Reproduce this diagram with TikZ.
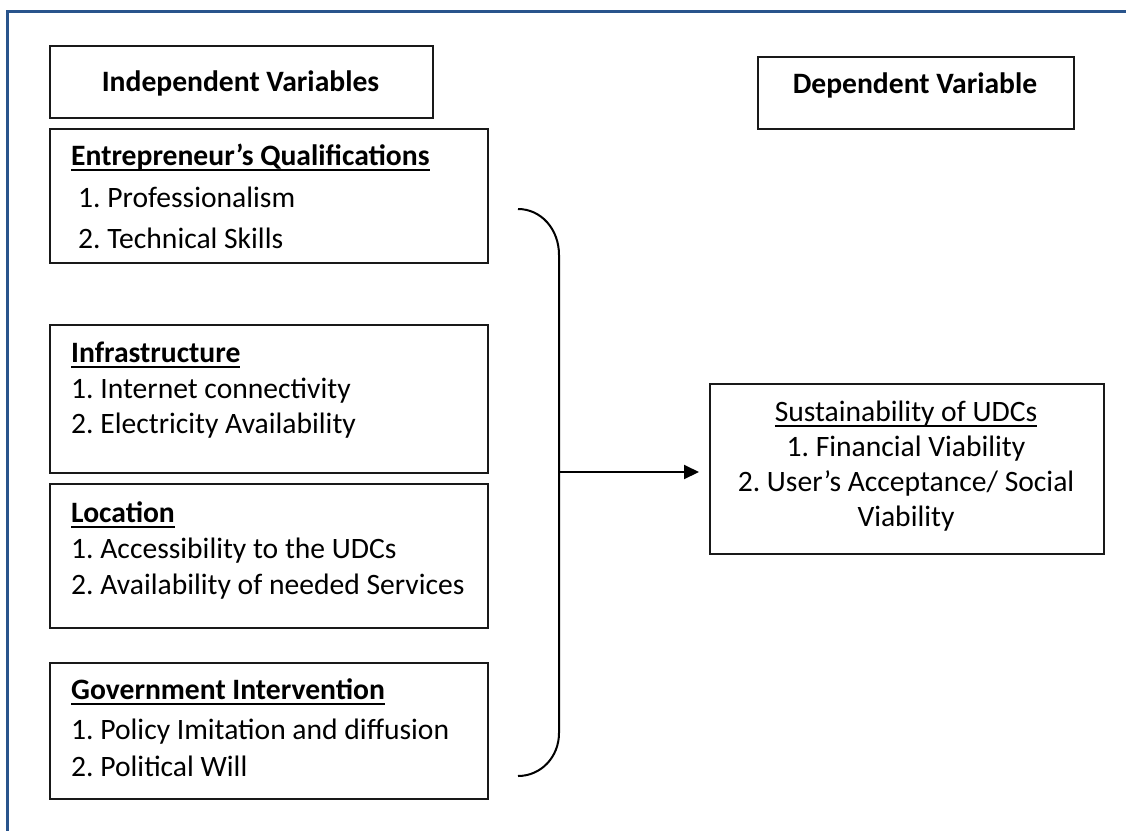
\documentclass[tikz,border=0pt]{standalone}
\usepackage{fontspec}
\setmainfont{Carlito}
\usetikzlibrary{arrows.meta}
\definecolor{borderblue}{RGB}{41,84,140}
\frenchspacing
\newcommand\ulbar[2][2pt]{\setbox0=\hbox{#2}\rlap{\rule[-6pt]{\wd0}{#1}}\box0}
\tikzset{
  box/.style={draw=black!90, line width=1.8pt, inner sep=0pt, anchor=north west},
  txt/.style={inner sep=0pt, anchor=base west, font=\fontsize{29.6}{35}\selectfont\frenchspacing},
  ctxt/.style={txt, anchor=base},
  hd/.style={txt, font=\fontsize{29.6}{35}\selectfont\bfseries},
  conn/.style={line width=2pt, draw=black},
  arr/.style={conn, -{Triangle[length=15pt, width=14pt]}}
}
\begin{document}
\begin{tikzpicture}[x=1pt, y=-1pt]
\fill[white] (0,0) rectangle (1126,830);
\useasboundingbox (0,0) rectangle (1126,830);
% page border
\draw[line width=3pt, borderblue] (7.5,860) -- (7.5,11) -- (1160,11);

% headers
\node[box, minimum width=383pt, minimum height=72pt] (ind) at (49,45) {};
\node[ctxt, font=\fontsize{29.6}{35}\selectfont\bfseries] (indT) at (240.5,91) {Independent Variables};
\node[box, minimum width=316pt, minimum height=72pt] (dep) at (757,56) {};
\node[ctxt, font=\fontsize{29.6}{35}\selectfont\bfseries] (depT) at (915,93) {Dependent Variable};

% entrepreneur
\node[box, minimum width=438pt, minimum height=134pt] (ent) at (49,128) {};
\node[hd] (entH) at (71,165) {\ulbar{Entrepreneur’s Qualifications}};
\node[txt] (ent1) at (78,207) {1. Professionalism};
\node[txt] (ent2) at (78,248) {2. Technical Skills};

% infrastructure
\node[box, minimum width=438pt, minimum height=148pt] (inf) at (49,324) {};
\node[hd] (infH) at (71,362) {\ulbar{Infrastructure}};
\node[txt] (inf1) at (71,398) {1. Internet connectivity};
\node[txt] (inf2) at (71,433) {2. Electricity Availability};

% location
\node[box, minimum width=438pt, minimum height=144pt] (loc) at (49,483) {};
\node[hd] (locH) at (71,522) {\ulbar{Location}};
\node[txt] (loc1) at (71,558) {1. Accessibility to the UDCs};
\node[txt] (loc2) at (71,594) {2. Availability of needed Services};

% government
\node[box, minimum width=438pt, minimum height=136pt] (gov) at (49,662) {};
\node[hd] (govH) at (71,699) {\ulbar{Government Intervention}};
\node[txt] (gov1) at (71,739) {1. Policy Imitation and diffusion};
\node[txt] (gov2) at (71,776) {2. Political Will};

% sustainability
\node[box, minimum width=394pt, minimum height=170pt] (sus) at (709,383) {};
\node[ctxt] (susH) at (906,421) {\ulbar[1.6pt]{Sustainability of UDCs}};
\node[ctxt] (sus1) at (906,456) {1. Financial Viability};
\node[ctxt] (sus2) at (906,491) {2. User’s Acceptance/ Social};
\node[ctxt] (sus3) at (906,526) {Viability};

% bracket and arrow
\coordinate (bTop) at (518,209);
\coordinate (bBot) at (518,776);
\coordinate (brk) at (559,472);
\coordinate (tip) at (699,472);
\draw[conn] (bTop) .. controls (541,209) and (559,229) .. (559,255)
  -- (559,733) .. controls (559,757) and (541,776) .. (bBot);
\draw[arr] (brk) -- (tip);
\end{tikzpicture}
\end{document}
